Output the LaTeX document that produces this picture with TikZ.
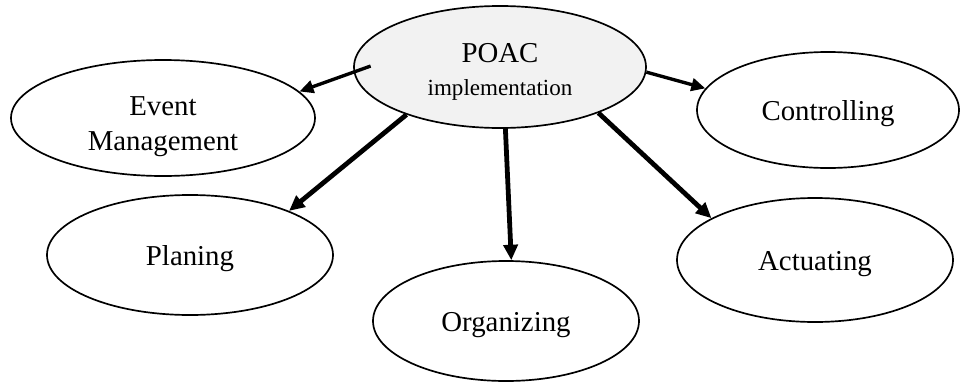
\documentclass[tikz,border=0pt]{standalone}
\usepackage{fontspec}
\setmainfont{Liberation Serif}
\usetikzlibrary{shapes.geometric,arrows.meta}

\begin{document}
\begin{tikzpicture}[line width=1.2pt,
    oval/.style={draw, ellipse, inner sep=0pt, font=\fontsize{20.5}{25}\selectfont, text height=20pt, text depth=4.5pt},
    label text/.style={align=center, inner sep=0pt, font=\fontsize{20.5}{25}\selectfont},
    link/.style={-{Triangle[length=11pt,width=10pt]}, line width=3.4pt},
    thinlink/.style={-{Triangle[length=10pt,width=9pt]}, line width=2.4pt}]
  \useasboundingbox (0,0) rectangle (24.1,-9.55);
  \node[oval, fill=black!5, minimum width=7.3cm, minimum height=3.05cm] (poac) at (12.5,-1.675) {};
  \node[label text] (poactxt) at ([yshift=-0.12cm]poac.center)
    {POAC\\[-2pt]{\fontsize{16.4}{20}\selectfont implementation}};
  \node[oval, minimum width=7.6cm, minimum height=2.9cm] (event) at (4.075,-2.95) {};
  \node[label text] (eventtxt) at ([yshift=-0.22cm]event.center) {Event\\Management};
  \node[oval, minimum width=6.55cm, minimum height=2.9cm] (ctrl) at (20.7,-2.75) {Controlling};
  \node[oval, minimum width=7.15cm, minimum height=3cm] (plan) at (4.75,-6.375) {Planing};
  \node[oval, minimum width=6.65cm, minimum height=3cm] (org) at (12.65,-8.025) {Organizing};
  \node[oval, minimum width=6.9cm, minimum height=3.1cm] (act) at (20.375,-6.5) {Actuating};
  \draw[thinlink, shorten <=-0.45cm] (poac.182) -- (event.11);
  \draw[thinlink] (poac.358) -- (ctrl.170);
  \draw[link] (poac.207) -- (plan.24);
  \draw[link] (poac.275) -- (org.85);
  \draw[link] (poac.335) -- (act.158);
\end{tikzpicture}
\end{document}
